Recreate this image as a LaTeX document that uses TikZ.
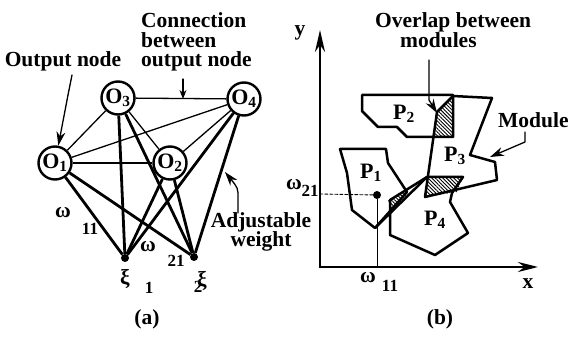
\documentclass[tikz,border=0pt]{standalone}
\usepackage{fontspec}
\setmainfont{Liberation Serif}
\usetikzlibrary{arrows.meta,patterns.meta,backgrounds}
\tikzset{
  every picture/.style={line join=round, line cap=round, >=Stealth},
  onode/.style={circle, draw, line width=2.4pt, fill=white, minimum size=33pt, inner sep=0pt, font=\fontsize{22}{22}\selectfont\bfseries},
  inode/.style={circle, fill, minimum size=8pt, inner sep=0pt},
  lbl/.style={font=\fontsize{21.5}{19.5}\selectfont\bfseries, inner sep=0pt},
  sublbl/.style={font=\fontsize{17}{17}\selectfont\bfseries, inner sep=0pt},
  plbl/.style={font=\fontsize{22}{22}\selectfont\bfseries, inner sep=0pt},
  thinedge/.style={line width=1.3pt},
  thickedge/.style={line width=2.8pt},
  module/.style={line width=2.5pt},
  callout/.style={line width=1.3pt, -{Stealth[length=14pt,width=9pt]}},
  hatch/.style={pattern={Lines[angle=-45,distance=2.6pt,line width=0.9pt]}},
}

\begin{document}
\begin{tikzpicture}[x=1pt,y=-1pt]
\useasboundingbox (0,0) rectangle (571,342);
% (a) output nodes and inputs
\node[onode] (o1) at (55,163) {O\textsubscript{1}};
\node[onode] (o2) at (170,163) {O\textsubscript{2}};
\node[onode] (o3) at (118,98) {O\textsubscript{3}};
\node[onode] (o4) at (244,99) {O\textsubscript{4}};
\node[inode] (xi1) at (125,258) {};
\node[inode] (xi2) at (194,257) {};
\begin{scope}[on background layer]
\foreach \a/\b in {o1/o2,o1/o3,o1/o4,o2/o3,o2/o4,o3/o4}
  \draw[thinedge] (\a) -- (\b);
\foreach \a in {o1,o2,o3,o4}
  \foreach \b in {xi1,xi2}
    \draw[thickedge] (\a) -- (\b);
\end{scope}
% labels of (a)
\node[lbl, anchor=base] (outlbl) at (63,67) {Output node};
\node[lbl, anchor=base west, align=left] (connlbl) at (141,67) {Connection\\between\\output node};
\node[lbl, anchor=base, align=center] (adjlbl) at (261,247) {Adjustable\\weight};
\coordinate (c34) at (183,99);
\coordinate (wtip) at (225,172);
\draw[callout] (72,75) -- (68,95) -- (o1);
\draw[line width=1.3pt, -{Stealth[length=9pt,width=7pt]}] (183,79) -- (c34);
\draw[callout] (238,213) -- (238,198) .. controls (238,188) .. (wtip);
\node[lbl] (w11) at (63,213) {ω};
\node[sublbl] (w11s) at (90,229) {11};
\node[lbl] (w21) at (148,247) {ω};
\node[sublbl] (w21s) at (176,261) {21};
\node[lbl] (x1) at (125,279) {ξ};
\node[sublbl] (x1s) at (149,288) {1};
\node[lbl] (x2) at (202,281) {ξ};
\node[sublbl] (x2s) at (198,287) {2};
\node[lbl] (cap-a) at (147,319) {(a)};
% (b) input space with modules
\coordinate (org) at (320,267);
\draw[line width=2.6pt, -{Stealth[length=22pt,width=10pt]}] (org) -- (320,30);
\draw[line width=2.6pt, -{Stealth[length=20pt,width=10pt]}] (org) -- (538,267);
\node[lbl] (ylbl) at (300,33) {y};
\node[lbl] (xlbl) at (528,284) {x};
% overlaps
\fill[hatch] (437,112) -- (453,97) -- (453,137) -- (435,137) -- cycle;
\fill[hatch] (427,177) -- (463,177) -- (457,192) -- (425,197) -- cycle;
\fill[hatch] (388,200) -- (402,192) -- (408,195) -- (392,213) -- cycle;
% modules
\draw[module] (340,149) -- (386,149) -- (388,163) -- (407,192) -- (375,228) -- (352,210) -- (347,173) -- cycle;
\draw[module] (362,95) -- (453,95) -- (453,137) -- (407,137) -- (397,127) -- (378,127) -- (362,111) -- cycle;
\draw[module] (437,112) -- (453,96) -- (492,98) -- (470,155) -- (495,162) -- (497,180) -- (425,197) -- cycle;
\draw[module] (427,177) -- (463,177) -- (452,193) -- (450,202) -- (468,233) -- (435,255) -- (390,235) -- (390,200) -- cycle;
\draw[module] (375,228) -- (427,177);
\node[plbl] (p1) at (371,173) {P\textsubscript{1}};
\node[plbl] (p2) at (404,114) {P\textsubscript{2}};
\node[plbl] (p3) at (455,156) {P\textsubscript{3}};
\node[plbl] (p4) at (435,220) {P\textsubscript{4}};
% sample point
\node[inode] (pt) at (377,195) {};
\draw[line width=0.9pt] (pt) -- (377,267);
\draw[line width=0.9pt, densely dashed] (pt) -- (320,194);
\node[lbl] (wy) at (294,185) {ω};
\node[sublbl] (wys) at (310,191) {21};
\node[lbl] (wx) at (368,278) {ω};
\node[sublbl] (wxs) at (390,286) {11};
% callouts of (b)
\node[lbl, anchor=base west] (ovl) at (375,28) {Overlap between};
\node[lbl, anchor=base west] (mods) at (400,48) {modules};
\node[lbl, anchor=base west] (modlbl) at (498,128) {Module};
\draw[callout] (429,60) -- (429,100) -- (437,113);
\draw[callout] (525,132) -- (525,142) -- (490,157);
\node[lbl] (cap-b) at (440,319) {(b)};
\end{tikzpicture}
\end{document}
